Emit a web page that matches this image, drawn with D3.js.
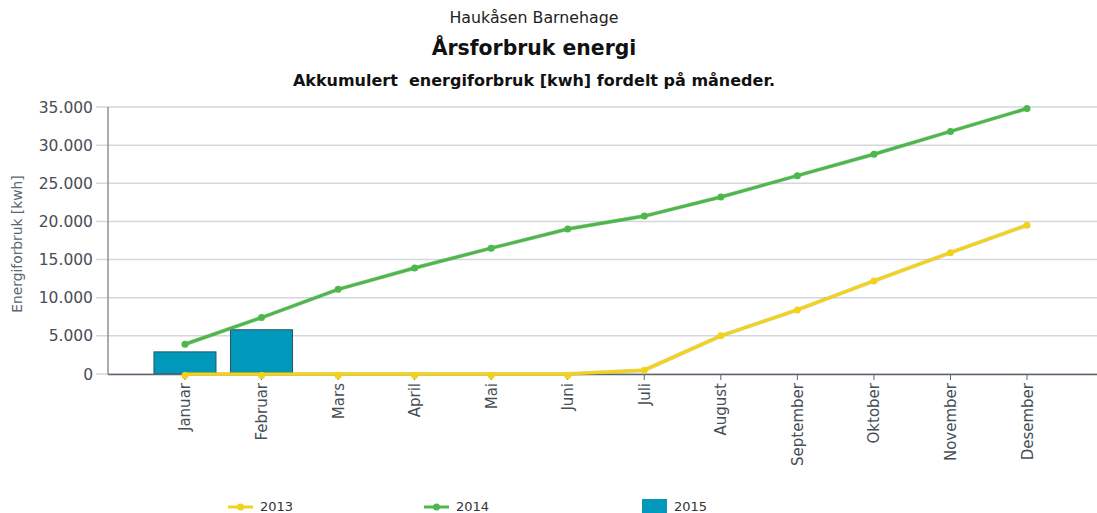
<!DOCTYPE html>
<html>
<head>
<meta charset="utf-8">
<script src="https://cdn.jsdelivr.net/npm/d3@7"></script>
<style>
  body { margin: 0; background: #fff; }
  svg { font-family: "DejaVu Sans", Verdana, sans-serif; }
</style>
</head>
<body>
<svg></svg>
<script>
const W = 1097, H = 513;

// data
const months = ["Januar", "Februar", "Mars", "April", "Mai", "Juni", "Juli", "August", "September", "Oktober", "November", "Desember"];
const values2013 = [0, 0, 0, 0, 0, 0, 500, 5000, 8400, 12200, 15900, 19500];
const values2014 = [3900, 7400, 11100, 13900, 16500, 19000, 20700, 23200, 26000, 28800, 31800, 34800];
const values2015 = [2900, 5800];
const yTicks = [0, 5000, 10000, 15000, 20000, 25000, 30000, 35000];
const seriesNames = ["2013", "2014", "2015"];

const COL_2013 = "#f2d21b", COL_2014 = "#4cb84a", COL_2015 = "#0099bb";

const svg = d3.select("svg").attr("width", W).attr("height", H);

const x = d3.scaleBand().domain(months).range([146.7, 1065.3]).padding(0);
const y = d3.scaleLinear().domain([0, 35000]).range([374, 107]);
const fmt = v => d3.format(",")(v).replace(/,/g, ".");
const cx = m => x(m) + x.bandwidth() / 2;
const barW = x.bandwidth() * 0.81;

// titles
svg.append("text").attr("x", 534).attr("y", 23).attr("text-anchor", "middle")
    .attr("font-size", 15.8).attr("fill", "#222").text("Haukåsen Barnehage");
svg.append("text").attr("x", 534).attr("y", 55).attr("text-anchor", "middle")
    .attr("font-size", 20.4).attr("font-weight", "bold").attr("fill", "#111").text("Årsforbruk energi");
svg.append("text").attr("x", 534).attr("y", 86).attr("text-anchor", "middle")
    .attr("font-size", 16).attr("font-weight", "bold").attr("fill", "#111")
    .style("white-space", "pre").text("Akkumulert  energiforbruk [kwh] fordelt på måneder.");

// grid + y labels
const yAxis = svg.append("g");
yAxis.selectAll("line").data(yTicks).enter().append("line")
    .attr("x1", 96).attr("x2", W)
    .attr("y1", d => y(d)).attr("y2", d => y(d))
    .attr("stroke", "#d4d8da").attr("stroke-width", 1.5);
yAxis.selectAll("text").data(yTicks).enter().append("text")
    .attr("x", 93).attr("y", d => y(d) + 5.5).attr("text-anchor", "end")
    .attr("font-size", 15.5).attr("fill", "#474e56").text(fmt);

svg.append("line").attr("x1", 108).attr("x2", 108).attr("y1", 107).attr("y2", 374)
    .attr("stroke", "#8a9298").attr("stroke-width", 1.5);

svg.append("text").attr("transform", "translate(22,244) rotate(-90)")
    .attr("text-anchor", "middle").attr("font-size", 13.8).attr("fill", "#5a6670")
    .text("Energiforbruk [kwh]");

// bars 2015
svg.append("g").selectAll("rect").data(values2015).enter().append("rect")
    .attr("x", (d, i) => cx(months[i]) - barW / 2).attr("width", barW)
    .attr("y", d => y(d)).attr("height", d => y(0) - y(d))
    .attr("fill", COL_2015).attr("stroke", "#2a5560").attr("stroke-width", 1);

// x axis
svg.append("line").attr("x1", 108).attr("x2", W).attr("y1", 374.5).attr("y2", 374.5)
    .attr("stroke", "#5b6670").attr("stroke-width", 1.5);
svg.append("g").selectAll("line").data(months).enter().append("line")
    .attr("x1", cx).attr("x2", cx).attr("y1", 374).attr("y2", 380)
    .attr("stroke", "#5b6670");
svg.append("g").selectAll("text").data(months).enter().append("text")
    .attr("transform", d => "translate(" + (cx(d) + 5.5) + ",383) rotate(-90)")
    .attr("text-anchor", "end").attr("font-size", 15).attr("fill", "#474e56")
    .text(d => d);

// lines
function drawLine(vals, col, shadow) {
    const line = d3.line().x((d, i) => cx(months[i])).y(d => y(d));
    const g = svg.append("g");
    g.append("path").datum(vals).attr("d", line).attr("fill", "none")
        .attr("stroke", shadow).attr("stroke-width", 4).attr("stroke-opacity", 0.35);
    g.append("path").datum(vals).attr("d", line).attr("fill", "none")
        .attr("stroke", col).attr("stroke-width", 3);
    g.selectAll("circle").data(vals).enter().append("circle")
        .attr("cx", (d, i) => cx(months[i])).attr("cy", d => y(d) + (d === 0 ? 1.5 : 0))
        .attr("r", 3.5).attr("fill", col);
}
drawLine(values2013, COL_2013, "#a08a00");
drawLine(values2014, COL_2014, "#2a7a30");

// legend
const leg = svg.append("g");
const legX = [228, 424, 642];
[COL_2013, COL_2014].forEach((c, i) => {
    leg.append("line").attr("x1", legX[i]).attr("x2", legX[i] + 25).attr("y1", 507).attr("y2", 507)
        .attr("stroke", c).attr("stroke-width", 3);
    leg.append("circle").attr("cx", legX[i] + 12.5).attr("cy", 507).attr("r", 3.5).attr("fill", c);
});
leg.append("rect").attr("x", legX[2]).attr("y", 499).attr("width", 25).attr("height", 14)
    .attr("fill", COL_2015);
seriesNames.forEach((s, i) => {
    leg.append("text").attr("x", legX[i] + 32).attr("y", 511).attr("font-size", 13)
        .attr("fill", "#333").text(s);
});
</script>
</body>
</html>
